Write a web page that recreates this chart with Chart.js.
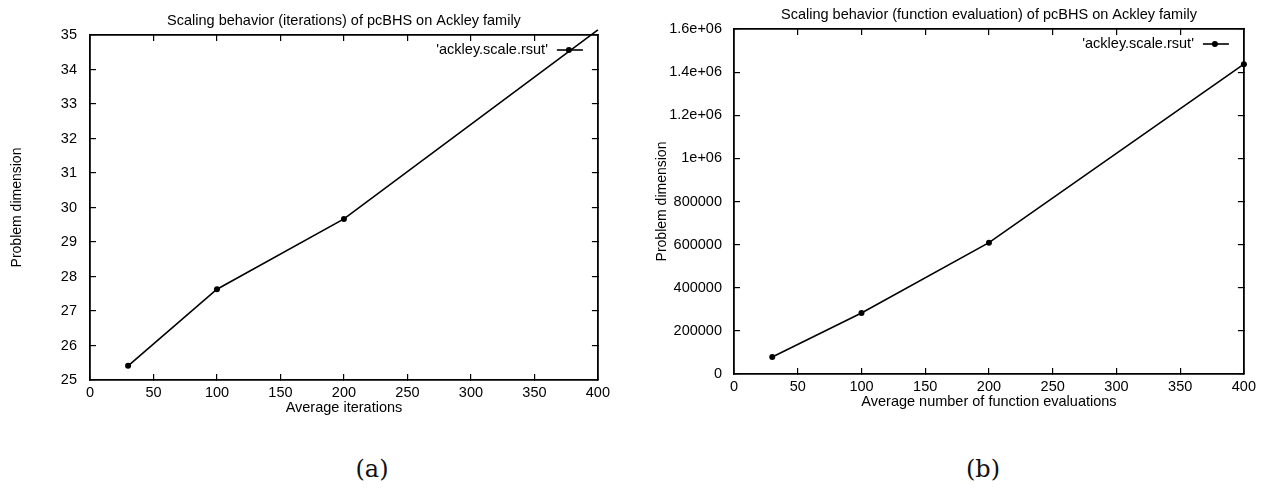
<!DOCTYPE html>
<html>
<head>
<meta charset="utf-8">
<script src="https://cdn.jsdelivr.net/npm/chart.js@4/dist/chart.umd.min.js"></script>
<style>
    html, body { margin: 0; padding: 0; background: #fff; }
    body { width: 1266px; height: 504px; position: relative; overflow: hidden; }
    canvas { position: absolute; top: 0; }
    #iterChart { left: 0; }
    #evalChart { left: 630px; }
    .caption {
        position: absolute;
        top: 455px;
        font-family: "DejaVu Serif", "Liberation Serif", serif;
        font-size: 24px;
        color: #111;
        transform: translateX(-50%);
    }
</style>
</head>
<body>
<canvas id="iterChart" width="620" height="420"></canvas>
<canvas id="evalChart" width="636" height="420"></canvas>
<div class="caption" style="left: 372px;">(a)</div>
<div class="caption" style="left: 983px;">(b)</div>

<script>
// problem dimension vs. averages
const dimensions = [30, 100, 200, 400];
const avgIterations = [25.41, 27.63, 29.67, 35.15];
const avgEvaluations = [79000, 283000, 609000, 1437000];

const xTicks = [0, 50, 100, 150, 200, 250, 300, 350, 400];
const iterTickLabels = ['25', '26', '27', '28', '29', '30', '31', '32', '33', '34', '35'];
const evalTickLabels = ['0', '200000', '400000', '600000', '800000', '1e+06', '1.2e+06', '1.4e+06', '1.6e+06'];

const seriesLabel = "'ackley.scale.rsut'";

const ink = '#000';
const fontFamily = '"Liberation Sans", Arial, Helvetica, sans-serif';
const textSize = 14.5;

document.addEventListener('DOMContentLoaded', () => {
    initIterChart();
    initEvalChart();
});

// gnuplot style key drawn inside the plot box, top right
const insideKey = {
    id: 'insideKey',
    afterDatasetsDraw(chart) {
        const { ctx, chartArea } = chart;
        const y = chartArea.top + 15;
        ctx.save();
        ctx.font = textSize + 'px ' + fontFamily;
        ctx.fillStyle = ink;
        ctx.textAlign = 'right';
        ctx.textBaseline = 'middle';
        ctx.fillText(chart.data.datasets[0].label, chartArea.right - 50, y);
        ctx.strokeStyle = ink;
        ctx.lineWidth = 1.6;
        ctx.beginPath();
        ctx.moveTo(chartArea.right - 41, y);
        ctx.lineTo(chartArea.right - 15, y);
        ctx.stroke();
        ctx.beginPath();
        ctx.arc(chartArea.right - 29, y, 3, 0, Math.PI * 2);
        ctx.fill();
        ctx.restore();
    }
};

function buildChart(canvasId, cfg) {
    const ctx = document.getElementById(canvasId).getContext('2d');
    const points = dimensions.map((d, i) => ({ x: d, y: cfg.values[i] }));

    const tickGrid = { drawOnChartArea: false, drawTicks: true, tickLength: -6, color: ink, lineWidth: 1.2 };
    const border = { display: true, color: ink, width: 1.8 };
    const tickFont = { family: fontFamily, size: textSize };

    return new Chart(ctx, {
        type: 'scatter',
        data: {
            datasets: [{
                label: seriesLabel,
                data: points,
                showLine: true,
                borderColor: ink,
                backgroundColor: ink,
                borderWidth: 1.6,
                pointRadius: 3,
                pointBorderWidth: 0,
                pointBackgroundColor: ink,
                clip: false
            }]
        },
        options: {
            responsive: false,
            animation: false,
            layout: { padding: { left: 0, right: cfg.padRight, top: 0, bottom: 0 } },
            plugins: {
                legend: { display: false },
                tooltip: { enabled: false },
                title: { display: false }
            },
            scales: {
                x: {
                    type: 'linear',
                    position: 'bottom',
                    min: 0,
                    max: 400,
                    afterBuildTicks: s => { s.ticks = xTicks.map(v => ({ value: v })); },
                    ticks: { color: ink, font: tickFont, padding: 10, maxRotation: 0 },
                    grid: tickGrid,
                    border: border,
                    title: {
                        display: true,
                        text: cfg.xTitle,
                        color: ink,
                        font: { family: fontFamily, size: textSize },
                        padding: { top: 0, bottom: cfg.xTitlePad }
                    },
                    afterFit: s => { s.height = cfg.xHeight; }
                },
                // top edge of the box; also carries the plot title so it centres over the box
                x2: {
                    type: 'linear',
                    position: 'top',
                    min: 0,
                    max: 400,
                    afterBuildTicks: s => { s.ticks = xTicks.map(v => ({ value: v })); },
                    ticks: { display: false },
                    grid: tickGrid,
                    border: border,
                    title: {
                        display: true,
                        text: cfg.title,
                        color: ink,
                        font: { family: fontFamily, size: textSize },
                        padding: { top: cfg.titleTop, bottom: 0 }
                    },
                    afterFit: s => { s.height = cfg.topHeight; }
                },
                y: {
                    type: 'linear',
                    position: 'left',
                    min: cfg.yMin,
                    max: cfg.yMax,
                    ticks: {
                        stepSize: cfg.yStep,
                        color: ink,
                        font: tickFont,
                        padding: cfg.yTickPad,
                        callback: (v, i) => cfg.yLabels[i]
                    },
                    grid: tickGrid,
                    border: border,
                    title: {
                        display: true,
                        text: 'Problem dimension',
                        color: ink,
                        font: { family: fontFamily, size: 14 },
                        padding: { top: cfg.yTitlePad, bottom: 0 }
                    },
                    afterFit: s => { s.width = cfg.yWidth; }
                },
                y2: {
                    type: 'linear',
                    position: 'right',
                    min: cfg.yMin,
                    max: cfg.yMax,
                    ticks: { display: false, stepSize: cfg.yStep },
                    grid: tickGrid,
                    border: border,
                    afterFit: s => { s.width = 0; }
                }
            }
        },
        plugins: [insideKey]
    });
}

function initIterChart() {
    buildChart('iterChart', {
        values: avgIterations,
        title: 'Scaling behavior (iterations) of pcBHS on Ackley family',
        xTitle: 'Average iterations',
        yMin: 25, yMax: 35, yStep: 1,
        yLabels: iterTickLabels,
        titleTop: 12,
        topHeight: 35,
        padRight: 22,
        yWidth: 90,
        xHeight: 40,
        yTickPad: 19,
        yTitlePad: 8.5,
        xTitlePad: 3.5
    });
}

function initEvalChart() {
    buildChart('evalChart', {
        values: avgEvaluations,
        title: 'Scaling behavior (function evaluation) of pcBHS on Ackley family',
        xTitle: 'Average number of function evaluations',
        yMin: 0, yMax: 1600000, yStep: 200000,
        yLabels: evalTickLabels,
        titleTop: 6,
        topHeight: 29,
        padRight: 21,
        yWidth: 104,
        xHeight: 46,
        yTickPad: 18,
        yTitlePad: 23.5,
        xTitlePad: 9
    });
}
</script>
</body>
</html>
